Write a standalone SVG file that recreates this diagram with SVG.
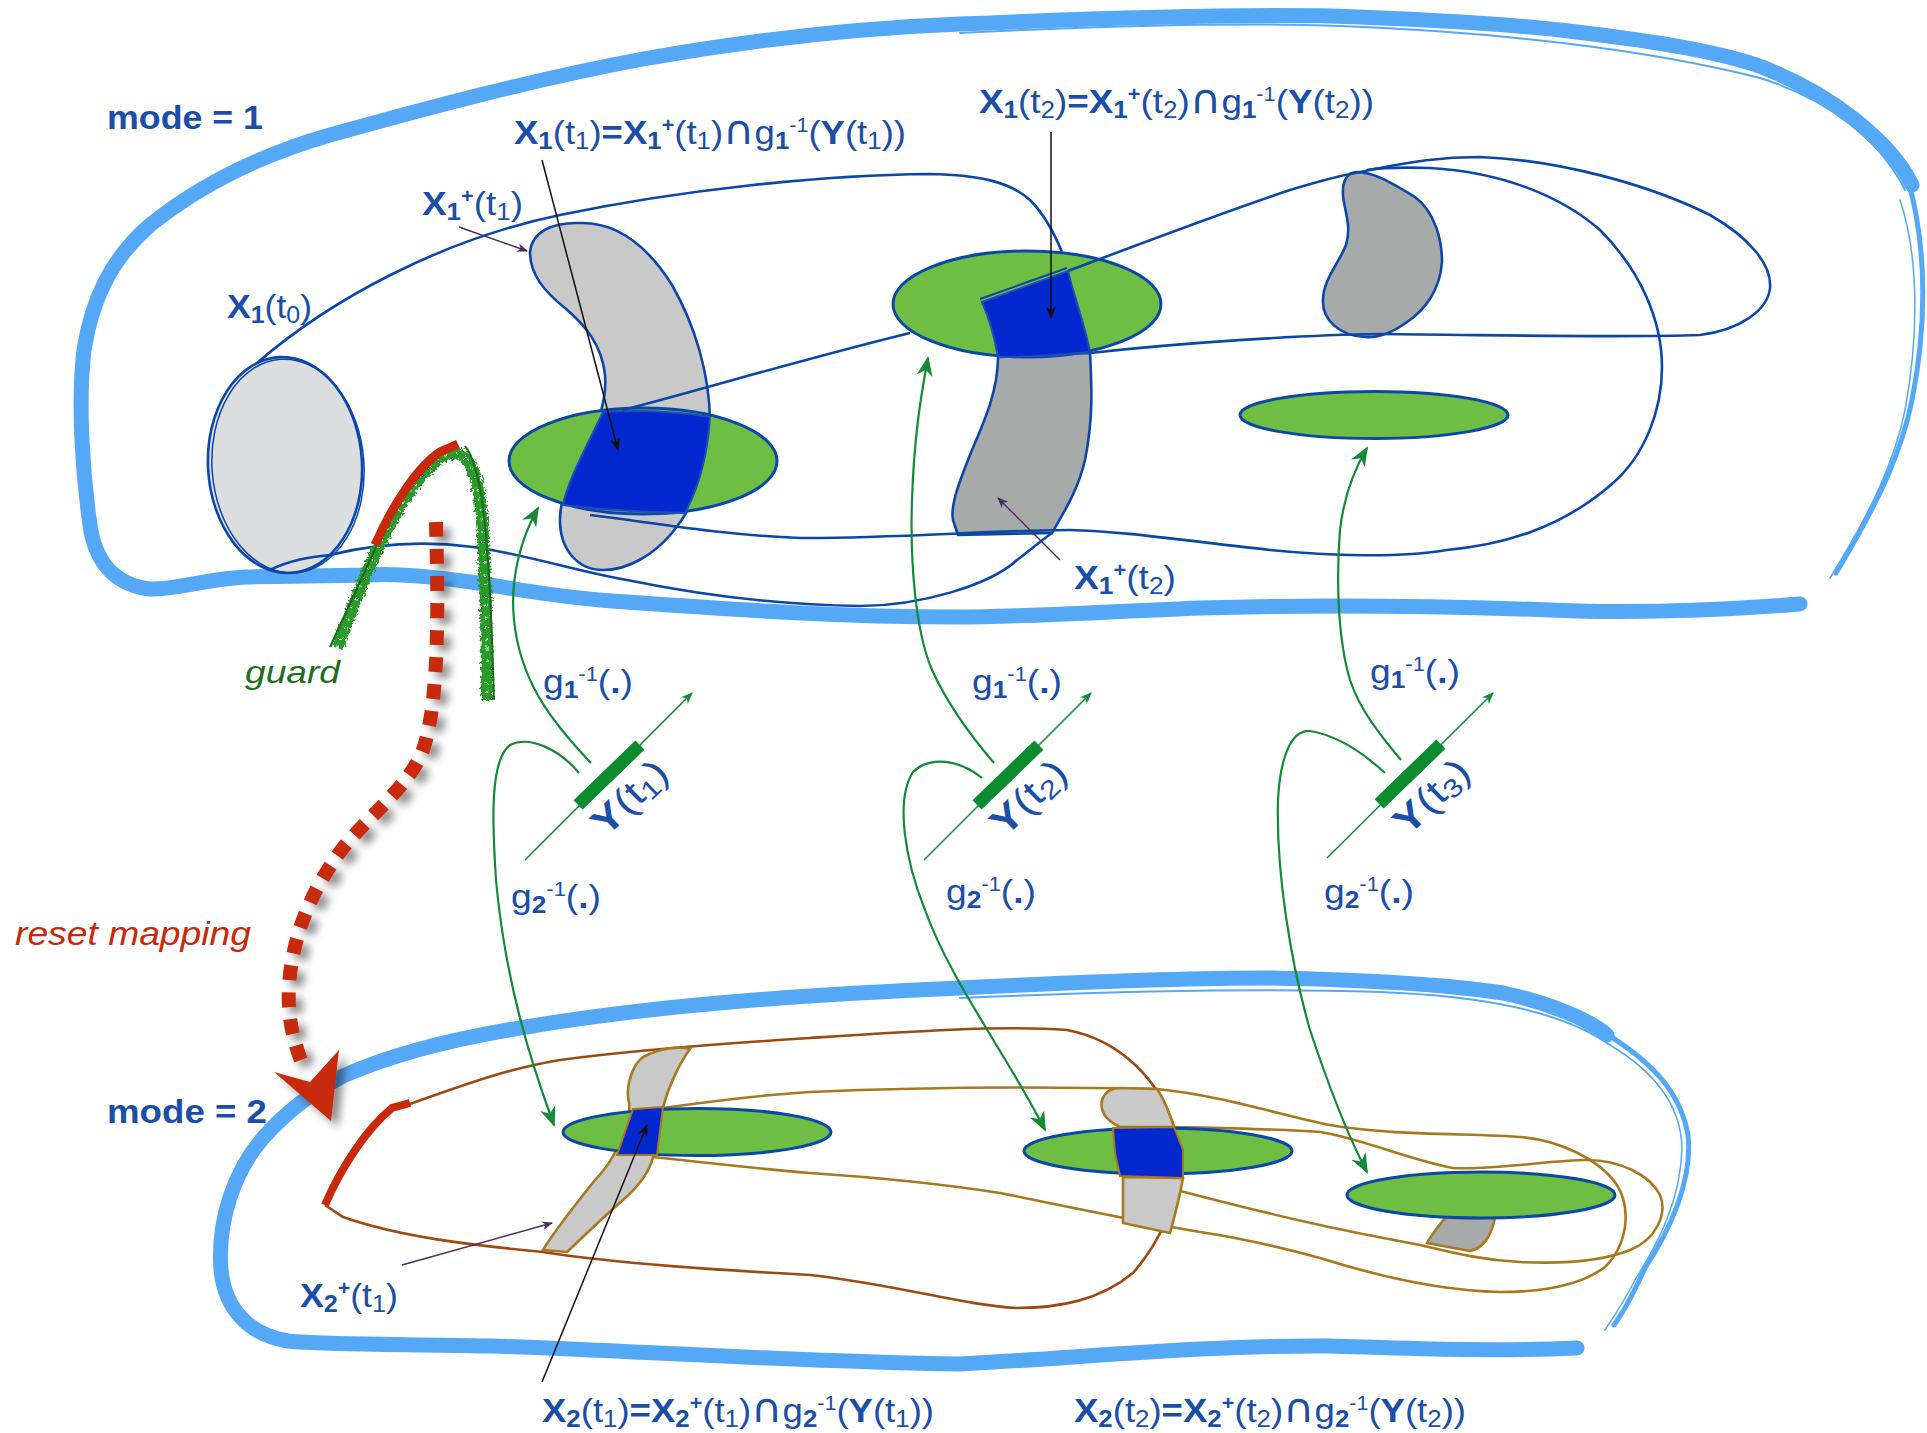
<svg xmlns="http://www.w3.org/2000/svg" width="1927" height="1433" viewBox="0 0 1927 1433">
<defs>
<style>
.t{font-family:"Liberation Sans",Arial,sans-serif;fill:#1B4EA6;font-size:34px}
.b{font-weight:bold}
.s{font-size:24px}
.p{font-size:20px}
.cap{font-family:"DejaVu Sans",sans-serif;font-size:40px}
.bnd{fill:none;stroke:#55A8F6;stroke-linecap:round;stroke-linejoin:round}
.tube{fill:none;stroke:#0B47A8;stroke-width:2.6;stroke-linejoin:round}
.set{stroke:#0B47A8;stroke-width:2.6}
.grn{fill:#6FBE44;stroke:#0B47A8;stroke-width:3}
.blu{fill:#0328D0;stroke:#1D4FB5;stroke-width:2}
.bro{fill:none;stroke:#9A4A12;stroke-width:2.6}
.och{fill:none;stroke:#A8781E;stroke-width:2.6}
.garr{fill:none;stroke:#138A36;stroke-width:2.2}
.ylin{fill:none;stroke:#138A36;stroke-width:1.5}
.ptr{fill:none;stroke:#4A2C5E;stroke-width:1.4}
.blk{fill:none;stroke:#111;stroke-width:1.5}
</style>
<marker id="ag" viewBox="0 0 10 10" refX="9" refY="5" markerWidth="20" markerHeight="20" markerUnits="userSpaceOnUse" orient="auto"><path d="M0,1 L10,5 L0,9 L3,5z" fill="#138A36"/></marker>
<marker id="ags" viewBox="0 0 10 10" refX="9" refY="5" markerWidth="12" markerHeight="12" markerUnits="userSpaceOnUse" orient="auto"><path d="M0,1 L10,5 L0,9 L3,5z" fill="#138A36"/></marker>
<marker id="ak" viewBox="0 0 10 10" refX="9" refY="5" markerWidth="13" markerHeight="13" markerUnits="userSpaceOnUse" orient="auto"><path d="M0,1 L10,5 L0,9 L3,5z" fill="#111"/></marker>
<marker id="ap" viewBox="0 0 10 10" refX="9" refY="5" markerWidth="11" markerHeight="11" markerUnits="userSpaceOnUse" orient="auto"><path d="M0,1 L10,5 L0,9 L3,5z" fill="#4A2C5E"/></marker>
<filter id="sh" x="-30%" y="-10%" width="160%" height="130%"><feGaussianBlur in="SourceAlpha" stdDeviation="4"/><feOffset dx="7" dy="6" result="o"/><feFlood flood-color="#000" flood-opacity="0.45"/><feComposite in2="o" operator="in"/><feMerge><feMergeNode/><feMergeNode in="SourceGraphic"/></feMerge></filter>
<filter id="rough" x="-20%" y="-10%" width="140%" height="120%"><feTurbulence type="fractalNoise" baseFrequency="0.4" numOctaves="2" seed="3"/><feDisplacementMap in="SourceGraphic" scale="8" xChannelSelector="R" yChannelSelector="G"/></filter>
</defs>
<rect width="1927" height="1433" fill="#fff"/>

<g id="mode1-boundary">
<path class="bnd" stroke-width="15" d="M 1800 604 C 1700 612, 1620 612, 1577 611 C 1450 606, 1330 604, 1200 608 C 1100 612, 1020 617, 960 617 C 820 617, 700 607, 612 601 C 560 597, 520 590, 490 585 C 440 577, 400 573, 367 575 C 320 576, 280 576, 245 577 C 200 580, 175 590, 150 589 C 115 585, 95 562, 90 525 C 82 470, 78 400, 84 350 C 92 300, 110 260, 150 225 C 200 185, 260 155, 330 135 C 420 110, 530 80, 643 59 C 750 40, 860 28, 960 24 C 1100 18, 1230 14, 1330 16 C 1450 20, 1520 25, 1577 32 C 1660 42, 1720 52, 1762 67 C 1800 82, 1830 100, 1854 119 C 1880 140, 1900 160, 1912 185"/>
<path class="bnd" stroke-width="2" d="M 960 33 C 1100 26, 1240 22, 1340 26 C 1500 32, 1650 50, 1760 78 C 1830 100, 1880 140, 1905 190"/>
<path class="bnd" stroke-width="1.5" d="M 700 48 C 800 36, 900 30, 980 28"/>
<path class="bnd" stroke-width="5" d="M 1908 180 C 1928 250, 1926 330, 1912 400 C 1902 450, 1880 500, 1836 573"/>
<path class="bnd" stroke-width="1.5" d="M 1900 200 C 1920 260, 1918 340, 1905 410 C 1895 460, 1872 510, 1830 578"/>
</g>

<g id="mode2-boundary">
<path class="bnd" stroke-width="15" d="M 1577 1348 C 1480 1352, 1400 1348, 1330 1346 C 1200 1345, 1080 1358, 960 1364 C 800 1362, 620 1350, 490 1346 C 400 1344, 330 1345, 288 1341 C 250 1335, 225 1310, 221 1270 C 217 1220, 235 1170, 263 1138 C 285 1113, 310 1093, 343 1076 C 390 1055, 450 1040, 508 1030 C 650 1005, 800 995, 960 988 C 1080 982, 1180 978, 1268 978 C 1380 980, 1450 985, 1503 993 C 1550 1003, 1590 1020, 1607 1035"/>
<path class="bnd" stroke-width="2" d="M 960 998 C 1100 992, 1260 988, 1380 992 C 1480 996, 1560 1010, 1610 1045"/>
<path class="bnd" stroke-width="5" d="M 1600 1030 C 1650 1060, 1680 1090, 1688 1135 C 1693 1180, 1670 1230, 1645 1268 C 1635 1290, 1625 1310, 1614 1325"/>
<path class="bnd" stroke-width="1.5" d="M 1610 1045 C 1660 1075, 1682 1110, 1682 1150 C 1680 1200, 1660 1240, 1635 1280 C 1625 1300, 1615 1315, 1605 1330"/>
</g>

<g id="mode1-sets">
<g id="X1-t0">
<ellipse cx="285" cy="465" rx="77" ry="108" fill="#DCDDDF" class="set" transform="rotate(-3 285 465)"/>
<ellipse cx="288" cy="466" rx="76" ry="107" fill="none" stroke="#0B47A8" stroke-width="1.5" transform="rotate(-4 288 466)"/>
</g>
<g id="X1p-t1">
<path class="set" fill="#C9C9C9" d="M 580 223 C 620 222, 650 250, 672 285 C 695 325, 710 375, 710 423 C 710 470, 695 505, 672 533 C 655 553, 630 570, 603 570 C 578 570, 560 550, 560 520 C 560 495, 572 470, 585 448 C 598 425, 607 400, 605 375 C 602 345, 585 325, 565 308 C 545 292, 530 275, 530 252 C 532 232, 552 222, 580 223 Z"/>
<ellipse class="grn" cx="643" cy="461" rx="134" ry="53"/>
<path class="blu" d="M 603 412 C 640 410, 680 412, 710 417 C 708 450, 700 485, 685 513 C 645 512, 600 510, 563 505 C 568 480, 585 450, 603 412 Z"/>
</g>
<g id="X1p-t2">
<path class="set" fill="#A6AAA9" d="M 998 357 C 998 390, 985 420, 972 450 C 960 480, 950 505, 953 520 L 958 535 L 1052 533 C 1065 510, 1078 490, 1085 460 C 1093 420, 1092 390, 1090 353 Z"/>
<ellipse class="grn" cx="1027" cy="304" rx="134" ry="53"/>
<path class="blu" d="M 982 302 L 1068 271 C 1075 300, 1085 325, 1090 352 C 1060 355, 1030 357, 998 357 C 995 340, 990 320, 982 302 Z"/>
<path d="M 980 299 L 1067 268" stroke="#0B47A8" stroke-width="2" fill="none"/>
</g>
<g id="X1p-t3">
<path class="set" fill="#A6AAA9" d="M 1357 172 C 1375 172, 1395 185, 1415 197 C 1435 212, 1442 240, 1442 262 C 1440 290, 1425 310, 1407 322 C 1392 333, 1378 338, 1365 337 C 1340 336, 1322 320, 1323 300 C 1323 280, 1338 265, 1346 245 C 1352 225, 1344 210, 1343 195 C 1342 180, 1348 172, 1357 172 Z"/>
<ellipse class="grn" cx="1374" cy="415" rx="134" ry="23.5"/>
</g>
<g id="mode1-tubes">
<path class="tube" d="M 257 363 C 330 300, 440 240, 560 215 C 680 190, 820 175, 930 174 C 980 175, 1010 182, 1030 200 C 1045 215, 1055 235, 1062 252"/>
<path class="tube" d="M 270 570 C 290 560, 310 557, 330 555 C 370 545, 420 540, 473 547 C 520 553, 580 572, 627 580 C 700 595, 780 605, 860 606 C 920 606, 990 585, 1017 560 C 1030 550, 1042 540, 1052 533"/>
<path class="tube" d="M 623 410 C 700 390, 800 360, 910 333"/>
<path class="tube" d="M 590 515 C 650 522, 720 535, 800 538 C 880 539, 1000 530, 1070 530 C 1120 531, 1180 540, 1270 550 C 1330 556, 1400 558, 1447 550 C 1500 545, 1560 530, 1613 483 C 1645 455, 1662 410, 1662 367 C 1662 320, 1640 270, 1600 230 C 1560 195, 1500 172, 1430 168 C 1400 167, 1380 168, 1367 170"/>
<path class="tube" stroke-width="3.8" d="M 1068 271 C 1150 240, 1230 210, 1290 190 C 1320 181, 1340 176, 1350 174"/>
<path class="tube" d="M 1350 174 C 1360 172, 1370 170, 1380 168 C 1410 162, 1440 157, 1480 157 C 1560 160, 1650 185, 1710 215 C 1750 238, 1772 265, 1770 288 C 1768 310, 1740 330, 1700 335 C 1620 338, 1500 335, 1380 334 C 1300 335, 1180 343, 1090 353"/>
</g>
</g>

<g id="mode2-sets">
<g id="mode2-tubes">
<path class="bro" d="M 410 1104 C 450 1090, 500 1070, 560 1060 C 620 1052, 700 1045, 810 1038 C 900 1032, 1000 1025, 1067 1030 C 1120 1040, 1160 1080, 1175 1130 C 1185 1180, 1170 1230, 1133 1273 C 1100 1300, 1060 1308, 1017 1308 C 960 1305, 900 1285, 810 1275 C 720 1270, 620 1264, 543 1252 C 470 1245, 400 1237, 343 1217 L 325 1205"/>
<path class="och" d="M 663 1108 C 720 1100, 760 1095, 810 1092 C 900 1088, 1020 1086, 1157 1089 C 1217 1095, 1270 1112, 1320 1123 C 1380 1136, 1470 1133, 1520 1137 C 1560 1140, 1600 1160, 1617 1185 C 1632 1210, 1627 1245, 1605 1267 C 1580 1286, 1540 1292, 1500 1292 C 1450 1291, 1390 1280, 1320 1258 C 1280 1247, 1240 1238, 1200 1232 C 1130 1220, 1060 1205, 1000 1193 C 930 1182, 870 1177, 810 1173 C 750 1168, 700 1162, 653 1157"/>
<path class="och" d="M 1174 1127 C 1220 1128, 1280 1129, 1320 1132 C 1360 1138, 1410 1160, 1453 1168 C 1500 1170, 1550 1160, 1587 1160 C 1620 1160, 1650 1175, 1660 1195 C 1668 1215, 1655 1240, 1630 1250 C 1600 1262, 1560 1264, 1520 1262 C 1480 1260, 1450 1252, 1420 1245 C 1380 1237, 1350 1232, 1320 1225 C 1250 1210, 1180 1190, 1123 1177"/>
</g>
<g id="X2p-t1">
<path fill="#C9C9C9" stroke="#A8781E" stroke-width="2.6" d="M 543 1250 L 567 1252 C 580 1240, 600 1220, 623 1200 C 640 1185, 650 1170, 653 1157 L 663 1108 C 667 1090, 680 1062, 690 1049 C 680 1046, 660 1048, 643 1057 C 632 1065, 627 1085, 628 1097 C 630 1105, 630 1115, 626 1125 C 620 1145, 610 1165, 595 1180 C 575 1205, 555 1230, 543 1250 Z"/>
<ellipse class="grn" cx="697" cy="1132" rx="134" ry="23.5"/>
<path fill="#0328D0" stroke="#A8781E" stroke-width="2" d="M 633 1109 L 663 1107 L 657 1155 L 617 1155 Z"/>
</g>
<g id="X2p-t2">
<path fill="#C9C9C9" stroke="#A8781E" stroke-width="2.6" d="M 1120 1127 C 1105 1120, 1100 1110, 1102 1100 C 1105 1092, 1110 1088, 1120 1088 L 1157 1089 C 1165 1100, 1170 1115, 1174 1127 Z"/>
<path fill="#C9C9C9" stroke="#A8781E" stroke-width="2.6" d="M 1123 1177 L 1123 1223 L 1170 1233 C 1175 1215, 1180 1195, 1183 1178 Z"/>
<ellipse class="grn" cx="1158" cy="1151" rx="134" ry="23"/>
<path fill="#0328D0" stroke="#A8781E" stroke-width="2" d="M 1113 1128 L 1174 1127 L 1183 1150 L 1183 1178 L 1120 1176 L 1115 1153 Z"/>
</g>
<g id="X2p-t3">
<path fill="#A6AAA9" stroke="#A8781E" stroke-width="2.6" d="M 1445 1218 C 1437 1228, 1430 1237, 1427 1243 L 1470 1251 C 1482 1248, 1490 1240, 1495 1218 Z"/>
<ellipse class="grn" cx="1481" cy="1195" rx="134" ry="23"/>
</g>
</g>

<g id="guard">
<path d="M 337 648 C 360 590, 392 495, 440 458 C 468 442, 478 470, 482 520 C 486 580, 487 640, 487 700" fill="none" stroke="#2A9A2A" stroke-width="12" filter="url(#rough)"/>
<path d="M 337 648 C 360 590, 392 495, 440 458 C 468 442, 478 470, 482 520 C 486 580, 487 640, 487 700" fill="none" stroke="#fff" stroke-width="2.5" stroke-dasharray="1.5 7 2 11" filter="url(#rough)"/>
<path d="M 330 647 L 377 545" fill="none" stroke="#1A6B1A" stroke-width="2"/>
<path d="M 465 446 C 485 470, 490 560, 494 700" fill="none" stroke="#1A6B1A" stroke-width="2"/>
<path d="M 375 545 C 395 500, 420 465, 440 452 L 458 444" fill="none" stroke="#C8290A" stroke-width="9"/>
</g>
<g id="guard-mode2">
<path d="M 325 1205 C 340 1170, 365 1130, 392 1108 L 410 1103" fill="none" stroke="#C8290A" stroke-width="8"/>
</g>

<g id="measurements">
<g id="Y-t1">
<path class="ylin" d="M 525 860 L 692 693" marker-end="url(#ags)"/>
<rect x="-43" y="-6.5" width="86" height="13" fill="#0B8A2F" transform="translate(609,775) rotate(-44)"/>
</g>
<g id="Y-t2">
<path class="ylin" d="M 924 860 L 1091 693" marker-end="url(#ags)"/>
<rect x="-43" y="-6.5" width="86" height="13" fill="#0B8A2F" transform="translate(1008,775) rotate(-44)"/>
</g>
<g id="Y-t3">
<path class="ylin" d="M 1327 858 L 1493 693" marker-end="url(#ags)"/>
<rect x="-43" y="-6.5" width="86" height="13" fill="#0B8A2F" transform="translate(1410,774) rotate(-44)"/>
</g>
</g>

<g id="connectors">
<path class="garr" d="M 591 763 C 550 720, 520 680, 514 620 C 510 580, 520 540, 538 508" marker-end="url(#ag)"/>
<path class="garr" d="M 579 773 C 560 750, 530 735, 510 745 C 490 760, 492 820, 496 880 C 505 980, 530 1060, 554 1125" marker-end="url(#ag)"/>
<path class="garr" d="M 994 763 C 970 735, 948 705, 932 670 C 915 630, 910 560, 912 500 C 914 440, 920 400, 928 358" marker-end="url(#ag)"/>
<path class="garr" d="M 982 778 C 960 760, 930 755, 913 772 C 895 800, 905 860, 925 910 C 950 980, 1010 1060, 1045 1130" marker-end="url(#ag)"/>
<path class="garr" d="M 1401 760 C 1380 735, 1360 710, 1350 680 C 1338 640, 1336 580, 1340 530 C 1344 495, 1354 470, 1367 448" marker-end="url(#ag)"/>
<path class="garr" d="M 1385 773 C 1360 750, 1335 735, 1310 731 C 1290 730, 1280 760, 1278 800 C 1276 870, 1290 960, 1310 1030 C 1330 1090, 1350 1140, 1367 1172" marker-end="url(#ag)"/>
<path class="blk" d="M 542 160 L 618 450" marker-end="url(#ak)"/>
<path class="blk" stroke="#333" d="M 1051 132 L 1051 318" marker-end="url(#ak)"/>
<path class="blk" d="M 542 1382 L 647 1125" marker-end="url(#ak)"/>
<path class="ptr" d="M 459 227 L 527 251" marker-end="url(#ap)"/>
<path class="ptr" d="M 1060 560 L 998 498" marker-end="url(#ap)"/>
<path class="ptr" d="M 402 1265 L 552 1223" marker-end="url(#ap)"/>
<g id="reset" filter="url(#sh)">
<path d="M 436 522 C 438 600, 440 700, 423 750 C 410 785, 370 815, 343 848 C 315 885, 293 930, 289 985 C 287 1020, 295 1045, 302 1063" fill="none" stroke="#C8290A" stroke-width="14" stroke-dasharray="15 12"/>
<polygon points="274,1072 331,1121 339,1050 310,1082" fill="#C8290A"/>
</g>
</g>

<g id="labels">
<text class="t b" x="107" y="129" textLength="156" lengthAdjust="spacingAndGlyphs">mode = 1</text>
<text class="t b" x="107" y="1123" textLength="160" lengthAdjust="spacingAndGlyphs">mode = 2</text>
<text class="t" x="227" y="318" textLength="85" lengthAdjust="spacingAndGlyphs"><tspan class="b">X</tspan><tspan class="b s" dy="5">1</tspan><tspan dy="-5">(t</tspan><tspan class="s" dy="5">0</tspan><tspan dy="-5">)</tspan></text>
<text class="t" x="422" y="215" textLength="101" lengthAdjust="spacingAndGlyphs"><tspan class="b">X</tspan><tspan class="b s" dy="5">1</tspan><tspan class="b p" dy="-17">+</tspan><tspan dy="12">(t</tspan><tspan class="s" dy="5">1</tspan><tspan dy="-5">)</tspan></text>
<text class="t" x="1074" y="589" textLength="102" lengthAdjust="spacingAndGlyphs"><tspan class="b">X</tspan><tspan class="b s" dy="5">1</tspan><tspan class="b p" dy="-17">+</tspan><tspan dy="12">(t</tspan><tspan class="s" dy="5">2</tspan><tspan dy="-5">)</tspan></text>
<text class="t" x="300" y="1307" textLength="98" lengthAdjust="spacingAndGlyphs"><tspan class="b">X</tspan><tspan class="b s" dy="5">2</tspan><tspan class="b p" dy="-17">+</tspan><tspan dy="12">(t</tspan><tspan class="s" dy="5">1</tspan><tspan dy="-5">)</tspan></text>
<text class="t" x="514" y="144" textLength="392" lengthAdjust="spacingAndGlyphs"><tspan class="b">X</tspan><tspan class="b s" dy="5">1</tspan><tspan dy="-5">(t</tspan><tspan class="s" dy="5">1</tspan><tspan dy="-5">)</tspan><tspan class="b">=X</tspan><tspan class="b s" dy="5">1</tspan><tspan class="b p" dy="-17">+</tspan><tspan dy="12">(t</tspan><tspan class="s" dy="5">1</tspan><tspan dy="-5">)</tspan><tspan class="cap">∩</tspan><tspan>g</tspan><tspan class="b s" dy="5">1</tspan><tspan class="p" dy="-17">-1</tspan><tspan dy="12">(</tspan><tspan class="b">Y</tspan><tspan>(t</tspan><tspan class="s" dy="5">1</tspan><tspan dy="-5">))</tspan></text>
<text class="t" x="979" y="113" textLength="395" lengthAdjust="spacingAndGlyphs"><tspan class="b">X</tspan><tspan class="b s" dy="5">1</tspan><tspan dy="-5">(t</tspan><tspan class="s" dy="5">2</tspan><tspan dy="-5">)</tspan><tspan class="b">=X</tspan><tspan class="b s" dy="5">1</tspan><tspan class="b p" dy="-17">+</tspan><tspan dy="12">(t</tspan><tspan class="s" dy="5">2</tspan><tspan dy="-5">)</tspan><tspan class="cap">∩</tspan><tspan>g</tspan><tspan class="b s" dy="5">1</tspan><tspan class="p" dy="-17">-1</tspan><tspan dy="12">(</tspan><tspan class="b">Y</tspan><tspan>(t</tspan><tspan class="s" dy="5">2</tspan><tspan dy="-5">))</tspan></text>
<text class="t" x="542" y="1422" textLength="392" lengthAdjust="spacingAndGlyphs"><tspan class="b">X</tspan><tspan class="b s" dy="5">2</tspan><tspan dy="-5">(t</tspan><tspan class="s" dy="5">1</tspan><tspan dy="-5">)</tspan><tspan class="b">=X</tspan><tspan class="b s" dy="5">2</tspan><tspan class="b p" dy="-17">+</tspan><tspan dy="12">(t</tspan><tspan class="s" dy="5">1</tspan><tspan dy="-5">)</tspan><tspan class="cap">∩</tspan><tspan>g</tspan><tspan class="b s" dy="5">2</tspan><tspan class="p" dy="-17">-1</tspan><tspan dy="12">(</tspan><tspan class="b">Y</tspan><tspan>(t</tspan><tspan class="s" dy="5">1</tspan><tspan dy="-5">))</tspan></text>
<text class="t" x="1074" y="1422" textLength="392" lengthAdjust="spacingAndGlyphs"><tspan class="b">X</tspan><tspan class="b s" dy="5">2</tspan><tspan dy="-5">(t</tspan><tspan class="s" dy="5">2</tspan><tspan dy="-5">)</tspan><tspan class="b">=X</tspan><tspan class="b s" dy="5">2</tspan><tspan class="b p" dy="-17">+</tspan><tspan dy="12">(t</tspan><tspan class="s" dy="5">2</tspan><tspan dy="-5">)</tspan><tspan class="cap">∩</tspan><tspan>g</tspan><tspan class="b s" dy="5">2</tspan><tspan class="p" dy="-17">-1</tspan><tspan dy="12">(</tspan><tspan class="b">Y</tspan><tspan>(t</tspan><tspan class="s" dy="5">2</tspan><tspan dy="-5">))</tspan></text>
<text class="t" x="543" y="693" textLength="90" lengthAdjust="spacingAndGlyphs">g<tspan class="b s" dy="5">1</tspan><tspan class="p" dy="-17">-1</tspan><tspan dy="12">(</tspan><tspan class="b">.</tspan>)</text>
<text class="t" x="972" y="693" textLength="90" lengthAdjust="spacingAndGlyphs">g<tspan class="b s" dy="5">1</tspan><tspan class="p" dy="-17">-1</tspan><tspan dy="12">(</tspan><tspan class="b">.</tspan>)</text>
<text class="t" x="1370" y="683" textLength="90" lengthAdjust="spacingAndGlyphs">g<tspan class="b s" dy="5">1</tspan><tspan class="p" dy="-17">-1</tspan><tspan dy="12">(</tspan><tspan class="b">.</tspan>)</text>
<text class="t" x="511" y="908" textLength="90" lengthAdjust="spacingAndGlyphs">g<tspan class="b s" dy="5">2</tspan><tspan class="p" dy="-17">-1</tspan><tspan dy="12">(</tspan><tspan class="b">.</tspan>)</text>
<text class="t" x="946" y="903" textLength="90" lengthAdjust="spacingAndGlyphs">g<tspan class="b s" dy="5">2</tspan><tspan class="p" dy="-17">-1</tspan><tspan dy="12">(</tspan><tspan class="b">.</tspan>)</text>
<text class="t" x="1324" y="903" textLength="90" lengthAdjust="spacingAndGlyphs">g<tspan class="b s" dy="5">2</tspan><tspan class="p" dy="-17">-1</tspan><tspan dy="12">(</tspan><tspan class="b">.</tspan>)</text>
<text class="t" style="font-size:38px" transform="translate(606,838) rotate(-44)" textLength="90" lengthAdjust="spacingAndGlyphs"><tspan class="b">Y</tspan>(t<tspan style="font-size:26px" dy="5">1</tspan><tspan dy="-5">)</tspan></text>
<text class="t" style="font-size:38px" transform="translate(1005,838) rotate(-44)" textLength="90" lengthAdjust="spacingAndGlyphs"><tspan class="b">Y</tspan>(t<tspan style="font-size:26px" dy="5">2</tspan><tspan dy="-5">)</tspan></text>
<text class="t" style="font-size:38px" transform="translate(1408,837) rotate(-44)" textLength="90" lengthAdjust="spacingAndGlyphs"><tspan class="b">Y</tspan>(t<tspan style="font-size:26px" dy="5">3</tspan><tspan dy="-5">)</tspan></text>
<text class="t" x="245" y="683" textLength="95" lengthAdjust="spacingAndGlyphs" font-style="italic" style="fill:#1E6E1E;font-size:32px">guard</text>
<text class="t" x="15" y="945" textLength="236" lengthAdjust="spacingAndGlyphs" font-style="italic" style="fill:#C8290A">reset mapping</text>
</g>
</svg>
